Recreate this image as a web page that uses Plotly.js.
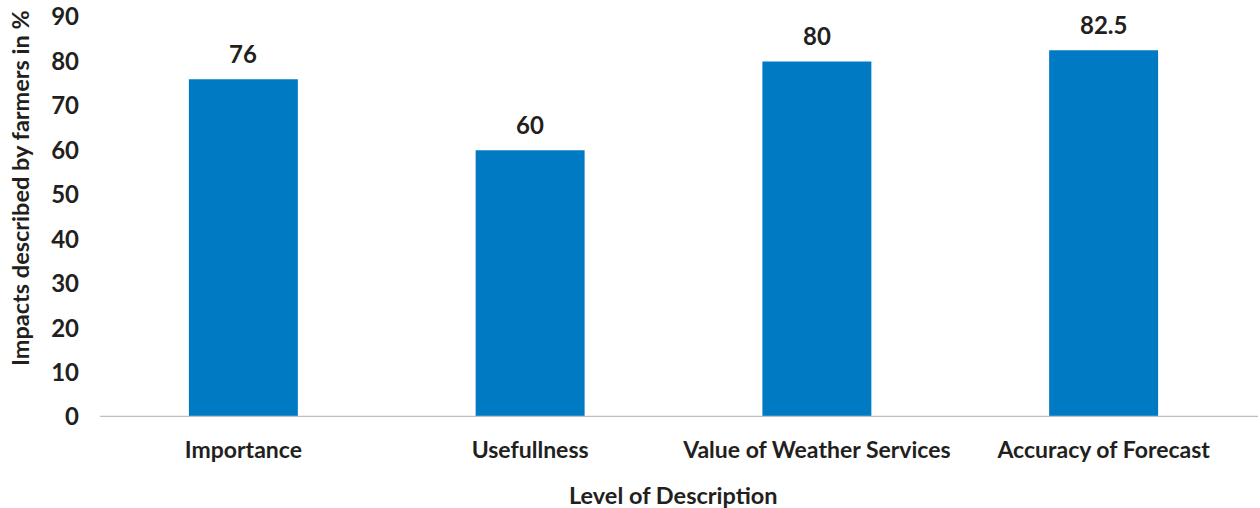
<!DOCTYPE html>
<html>
<head>
<meta charset="utf-8">
<script src="https://cdn.plot.ly/plotly-3.0.1.min.js"></script>
<style>html,body{margin:0;padding:0;background:#fff;}#chart{width:1260px;height:508px;}</style>
</head>
<body>
<div id="chart"></div>
<script>
var categories = ["Importance", "Usefullness", "Value of Weather Services", "Accuracy of Forecast"];
var values = [76, 60, 80, 82.5];
var valueLabels = ["76", "60", "80", "82.5"];
var yTickVals = [0, 10, 20, 30, 40, 50, 60, 70, 80, 90];
var xTitle = "Level of Description";
var yTitle = "Impacts described by farmers in %";

var FONT = "Lato, 'Open Sans', sans-serif";
var TXT = "#231F20";

var trace = {
  type: "bar",
  x: categories,
  y: values,
  marker: {color: "#007BC3"},
  width: 0.38,
  hoverinfo: "none"
};

var annotations = categories.map(function(c, i) {
  return {
    x: c, y: values[i], xref: "x", yref: "y",
    text: "<b>" + valueLabels[i] + "</b>",
    showarrow: false, yanchor: "bottom", yshift: 9,
    font: {family: FONT, size: 24, color: TXT}
  };
});
annotations.push({
  xref: "paper", yref: "paper", x: -0.0697, y: 0.5725,
  text: "<b>" + yTitle + "</b>", textangle: -90, showarrow: false,
  xanchor: "center", yanchor: "middle",
  font: {family: FONT, size: 23.5, color: TXT}
});
annotations.push({
  xref: "paper", yref: "paper", x: 0.5, y: -0.195,
  text: "<b>" + xTitle + "</b>", showarrow: false,
  xanchor: "center", yanchor: "middle",
  font: {family: FONT, size: 23.5, color: TXT}
});

var layout = {
  width: 1260, height: 508,
  margin: {l: 100, r: 13, t: 17, b: 91},
  paper_bgcolor: "#fff", plot_bgcolor: "#fff",
  showlegend: false,
  font: {family: FONT, color: TXT},
  xaxis: {
    type: "category",
    showline: false, showgrid: false, zeroline: false,
    ticks: "", tickfont: {family: FONT, size: 23, color: TXT, weight: "bold"},
    ticklabelstandoff: 17,
    fixedrange: true
  },
  yaxis: {
    range: [0, 90], tickvals: yTickVals,
    showline: false, showgrid: false, zeroline: false,
    ticks: "", tickfont: {family: FONT, size: 24, color: TXT, weight: "bold"},
    ticklabelstandoff: 20,
    fixedrange: true
  },
  shapes: [{
    type: "line", xref: "paper", yref: "y",
    x0: 0, x1: 1.0096, y0: 0, y1: 0,
    line: {color: "#BFBFBF", width: 2.5}
  }],
  annotations: annotations
};

Plotly.newPlot("chart", [trace], layout, {displayModeBar: false, staticPlot: true});
</script>
</body>
</html>
